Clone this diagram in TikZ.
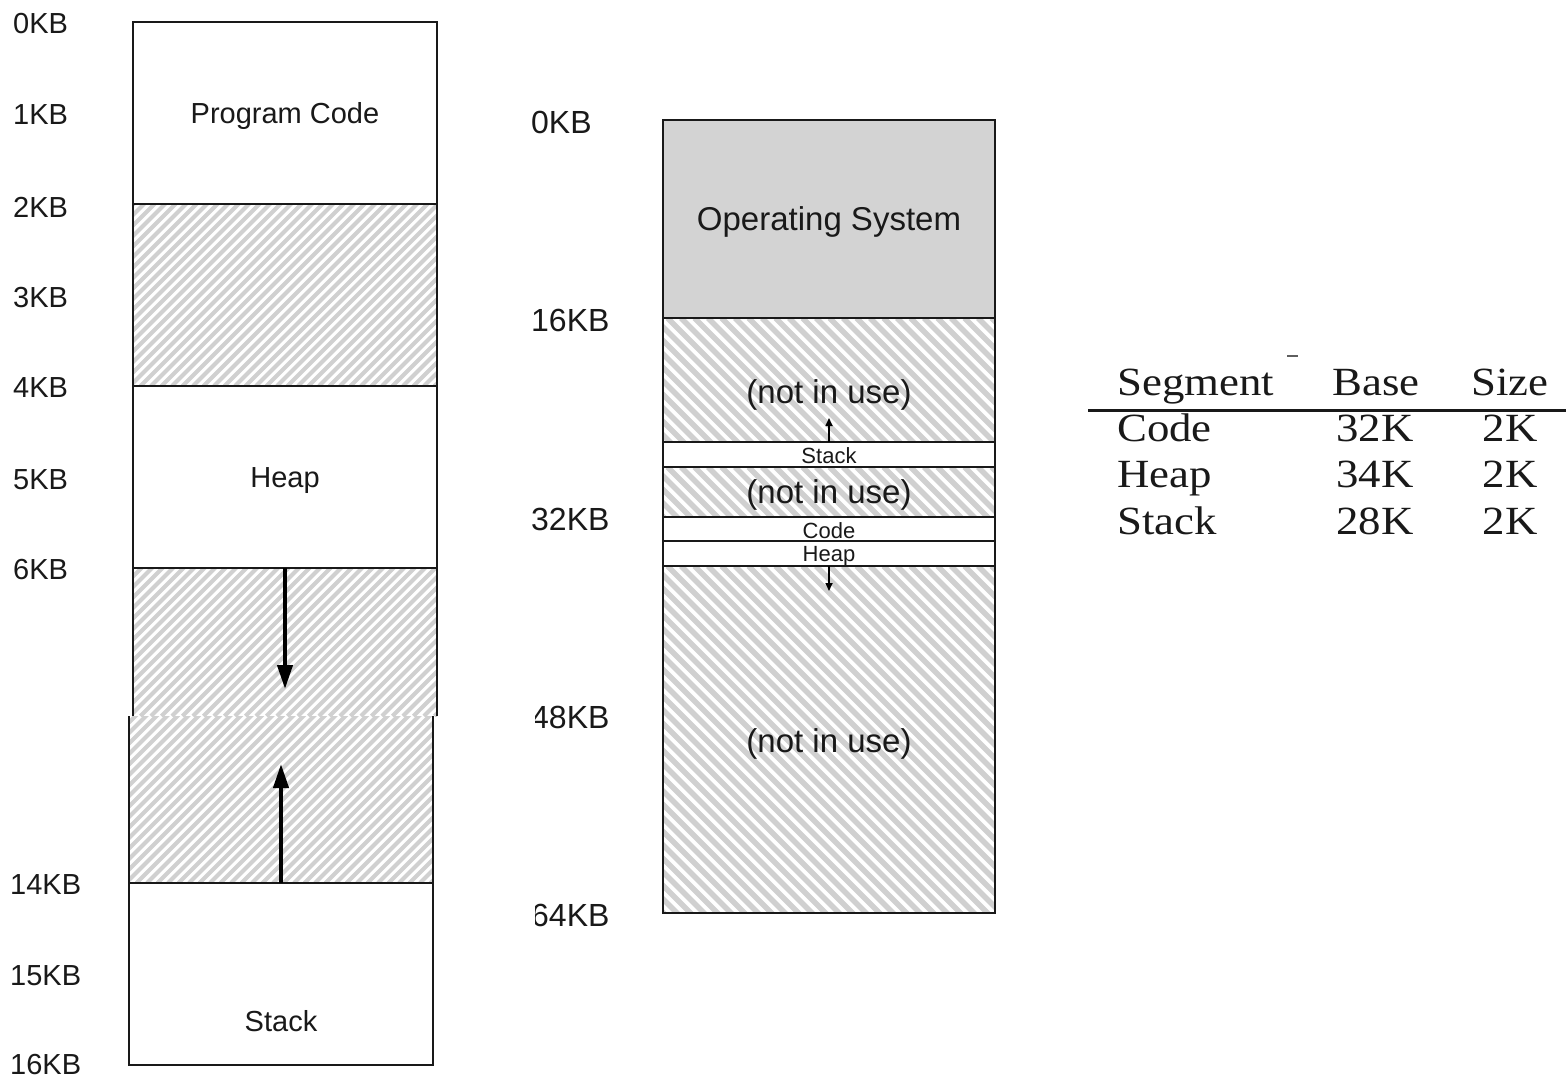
\documentclass[tikz,border=0pt]{standalone}
\usepackage{fontspec}
\newfontfamily\labelfont{Liberation Sans}
\newfontfamily\tablefont[FakeStretch=1.12]{Liberation Serif}
\usetikzlibrary{arrows.meta}
\definecolor{hatchgray}{RGB}{208,208,208}
\definecolor{osgray}{RGB}{211,211,211}
\definecolor{inkgray}{RGB}{25,25,25}
\tikzset{
  memline/.style={line width=2.6pt, draw=inkgray},
  hatchthin/.style={line width=4pt, draw=hatchgray},
  hatchwide/.style={line width=5.4pt, draw=hatchgray},
  kbleft/.style={anchor=west, inner sep=0pt, text=inkgray, font=\labelfont\fontsize{29}{34}\selectfont},
  kbmid/.style={anchor=west, inner sep=0pt, text=inkgray, font=\labelfont\fontsize{32}{38}\selectfont},
  seglabel/.style={inner sep=0pt, text=inkgray, font=\labelfont\fontsize{29}{34}\selectfont},
  biglabel/.style={inner sep=0pt, text=inkgray, font=\labelfont\fontsize{33}{38}\selectfont},
  smalllabel/.style={inner sep=0pt, text=inkgray, font=\labelfont\fontsize{22}{26}\selectfont},
  growbig/.style={line width=4pt, draw=black, -{Triangle[length=24pt,width=15pt]}},
  growsmall/.style={line width=1.6pt, draw=black, -{Triangle[length=8pt,width=7pt]}},
  tabtext/.style={anchor=base, inner sep=0pt, text=inkgray, font=\tablefont\fontsize{40}{46}\selectfont},
}
% stripes rising to the right, clipped to a rectangle (x1,y1)-(x2,y2)
\newcommand\hatchfwd[4]{%
  \begin{scope}
    \clip (#1,#2) rectangle (#3,#4);
    \foreach \i in {0,10.5,...,720} \draw[hatchthin] ({#1-360+\i},#4) -- ++(500,-500);
  \end{scope}}
% stripes falling to the right, clipped to a rectangle (x1,y1)-(x2,y2)
\newcommand\hatchback[4]{%
  \begin{scope}
    \clip (#1,#2) rectangle (#3,#4);
    \foreach \i in {0,13.5,...,720} \draw[hatchwide] ({#1-360+\i},#2) -- ++(500,500);
  \end{scope}}

\begin{document}
\begin{tikzpicture}[x=1pt,y=-1pt]
\useasboundingbox[fill=white] (0,0) rectangle (1566,1079);

% ---------- address space of one process ----------
\hatchfwd{133}{204}{437}{386}
\hatchfwd{133}{568}{437}{716}
\hatchfwd{129}{716}{433}{883}

\draw[memline] (133,716) -- (133,22) -- (437,22) -- (437,716);
\draw[memline] (133,204) -- (437,204);
\draw[memline] (133,386) -- (437,386);
\draw[memline] (133,568) -- (437,568);
\draw[memline] (129,716) -- (129,1065) -- (433,1065) -- (433,716);
\draw[memline] (129,883) -- (433,883);

\node[seglabel] (code) at (285,116) {Program Code};
\node[seglabel] (heap) at (285,481) {Heap};
\node[seglabel] (stack) at (281,1021) {Stack};

\coordinate (heapTop) at (285,568);
\coordinate (heapGrow) at (285,689);
\coordinate (stackTop) at (281,883);
\coordinate (stackGrow) at (281,764);
\draw[growbig] (heapTop) -- (heapGrow);
\draw[growbig] (stackTop) -- (stackGrow);

\node[kbleft] (a0) at (13,24) {0KB};
\node[kbleft] (a1) at (13,115) {1KB};
\node[kbleft] (a2) at (13,207) {2KB};
\node[kbleft] (a3) at (13,298) {3KB};
\node[kbleft] (a4) at (13,388) {4KB};
\node[kbleft] (a5) at (13,480) {5KB};
\node[kbleft] (a6) at (13,570) {6KB};
\node[kbleft] (a14) at (10,885) {14KB};
\node[kbleft] (a15) at (10,976) {15KB};
\node[kbleft] (a16) at (10,1065) {16KB};

% ---------- physical memory ----------
\fill[osgray] (663,120) rectangle (995,318);
\hatchback{663}{318}{995}{442}
\hatchback{663}{467}{995}{517}
\hatchback{663}{566}{995}{913}

\draw[memline] (663,120) rectangle (995,913);
\foreach \yy in {318,442,467,517,541,566}
  \draw[memline] (663,\yy) -- (995,\yy);

\node[biglabel] (os) at (829,222) {Operating System};
\node[biglabel] (free1) at (829,395) {(not in use)};
\node[smalllabel] (pstack) at (829,456) {Stack};
\node[biglabel] (free2) at (829,495) {(not in use)};
\node[smalllabel] (pcode) at (829,531) {Code};
\node[smalllabel] (pheap) at (829,556) {Heap};
\node[biglabel] (free3) at (829,744) {(not in use)};

\coordinate (pstackTop) at (829,442);
\coordinate (pstackGrow) at (829,418);
\coordinate (pheapTop) at (829,566);
\coordinate (pheapGrow) at (829,591);
\draw[growsmall] (pstackTop) -- (pstackGrow);
\draw[growsmall] (pheapTop) -- (pheapGrow);

\node[kbmid] (p0) at (531,122) {0KB};
\node[kbmid] (p16) at (531,320) {16KB};
\node[kbmid] (p32) at (531,519) {32KB};
\begin{scope}
  \clip (535,680) rectangle (660,950);
  \node[kbmid] (p48) at (531,717) {48KB};
  \node[kbmid] (p64) at (531,915) {64KB};
\end{scope}

% ---------- segment register table ----------
\node[tabtext, anchor=base west] (hseg) at (1117,395) {Segment};
\node[tabtext] (hbase) at (1376,395) {Base};
\node[tabtext] (hsize) at (1510,395) {Size};
\draw[line width=1.8pt, draw=inkgray!70] (1287,356) -- (1298,356);
\draw[line width=3pt, draw=inkgray] (1088,410) -- (1566,410);

\node[tabtext, anchor=base west] (rcode) at (1117,441) {Code};
\node[tabtext] (bcode) at (1375,441) {32K};
\node[tabtext] (scode) at (1510,441) {2K};
\node[tabtext, anchor=base west] (rheap) at (1117,487) {Heap};
\node[tabtext] (bheap) at (1375,487) {34K};
\node[tabtext] (sheap) at (1510,487) {2K};
\node[tabtext, anchor=base west] (rstack) at (1117,534) {Stack};
\node[tabtext] (bstack) at (1375,534) {28K};
\node[tabtext] (sstack) at (1510,534) {2K};
\end{tikzpicture}
\end{document}
